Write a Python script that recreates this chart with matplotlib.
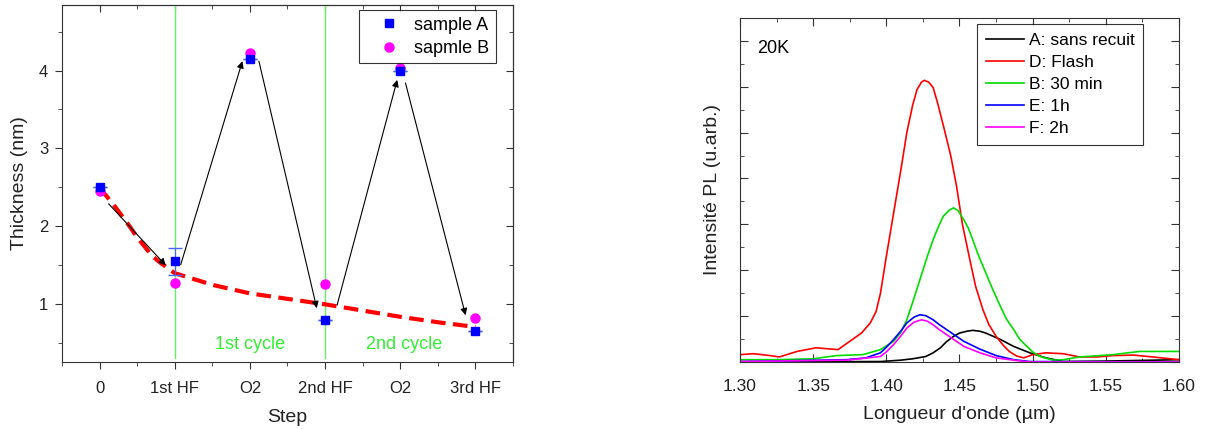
import numpy as np
import matplotlib.pyplot as plt
from matplotlib.ticker import MultipleLocator, FixedLocator

plt.rcParams['font.family'] = ['Liberation Sans', 'DejaVu Sans']
plt.rcParams['font.size'] = 12

# --- panneau gauche : épaisseur ---
steps = ['0', '1st HF', 'O2', '2nd HF', 'O2', '3rd HF']
sample_a = [2.50, 1.55, 4.15, 0.80, 4.00, 0.66]
sample_b = [2.46, 1.27, 4.23, 1.26, 4.03, 0.82]
err_a = [0, 0.17, 0, 0, 0, 0]

# courbe rouge en pointillés (tendance)
trend_x = [0.0, 0.1, 0.2, 0.3, 0.4, 0.5, 0.6, 0.7, 0.8, 0.9, 1.0, 1.5, 2.0, 2.5, 3.0, 3.5, 4.0, 4.5, 5.0]
trend_y = [2.49, 2.38, 2.26, 2.13, 2.00, 1.86, 1.74, 1.62, 1.54, 1.47, 1.40, 1.25, 1.14, 1.07, 1.00, 0.92, 0.84, 0.77, 0.71]

# flèches (départ, arrivée)
arrows = [((0.12, 2.29), (0.88, 1.50)),
          ((1.08, 1.51), (1.90, 4.12)),
          ((2.12, 4.12), (2.89, 0.95)),
          ((3.16, 0.99), (3.96, 3.88)),
          ((4.07, 3.84), (4.87, 0.86))]

# --- panneau droit : PL ---
wl_A = [1.30, 1.396, 1.410, 1.418, 1.427, 1.432, 1.437, 1.441, 1.446, 1.450, 1.455, 1.459, 1.464, 1.468,
        1.478, 1.487, 1.498, 1.509, 1.521, 1.55, 1.60]
pl_A = [0.00, 0.01, 0.04, 0.07, 0.12, 0.20, 0.31, 0.44, 0.56, 0.63, 0.67, 0.69, 0.67, 0.63,
        0.49, 0.34, 0.20, 0.09, 0.01, 0.02, 0.05]

wl_D = [1.30, 1.309, 1.318, 1.327, 1.339, 1.352, 1.359, 1.367, 1.375, 1.383, 1.389, 1.393, 1.396, 1.400,
        1.405, 1.410, 1.414, 1.418, 1.421, 1.424, 1.426, 1.429, 1.432, 1.435, 1.439, 1.444, 1.448, 1.452,
        1.457, 1.461, 1.466, 1.470, 1.475, 1.480, 1.484, 1.489, 1.494, 1.500, 1.509, 1.521, 1.532, 1.544,
        1.555, 1.569, 1.582, 1.60]
pl_D = [0.16, 0.18, 0.15, 0.11, 0.23, 0.31, 0.29, 0.27, 0.45, 0.63, 0.85, 1.10, 1.50, 2.30,
        3.25, 4.20, 5.00, 5.60, 5.94, 6.10, 6.14, 6.10, 5.98, 5.65, 5.15, 4.50, 3.83, 3.00,
        2.24, 1.65, 1.14, 0.82, 0.56, 0.36, 0.23, 0.13, 0.09, 0.16, 0.20, 0.18, 0.11, 0.11,
        0.14, 0.15, 0.11, 0.05]

wl_B = [1.30, 1.327, 1.35, 1.366, 1.384, 1.396, 1.405, 1.410, 1.414, 1.418, 1.423, 1.428, 1.432, 1.436,
        1.439, 1.443, 1.446, 1.449, 1.453, 1.456, 1.459, 1.463, 1.468, 1.473, 1.478, 1.482, 1.487, 1.491,
        1.496, 1.500, 1.505, 1.514, 1.521, 1.532, 1.555, 1.573, 1.60]
pl_B = [0.05, 0.05, 0.07, 0.14, 0.16, 0.27, 0.45, 0.65, 0.92, 1.30, 1.80, 2.30, 2.67, 2.98,
        3.18, 3.31, 3.36, 3.30, 3.10, 2.92, 2.67, 2.32, 1.94, 1.56, 1.21, 0.94, 0.71, 0.50,
        0.34, 0.22, 0.12, 0.04, 0.05, 0.11, 0.16, 0.23, 0.23]

wl_E = [1.30, 1.373, 1.386, 1.396, 1.400, 1.405, 1.410, 1.414, 1.419, 1.423, 1.427, 1.432, 1.436, 1.441,
        1.447, 1.453, 1.464, 1.475, 1.487, 1.498, 1.60]
pl_E = [0.01, 0.05, 0.09, 0.20, 0.32, 0.49, 0.68, 0.85, 0.98, 1.03, 1.01, 0.92, 0.82, 0.71,
        0.58, 0.45, 0.28, 0.14, 0.05, 0.01, 0.00]

wl_F = [1.30, 1.373, 1.396, 1.400, 1.405, 1.410, 1.414, 1.419, 1.424, 1.428, 1.432, 1.436, 1.441, 1.447,
        1.453, 1.464, 1.475, 1.487, 1.498, 1.60]
pl_F = [0.01, 0.04, 0.12, 0.22, 0.38, 0.57, 0.74, 0.87, 0.92, 0.89, 0.81, 0.71, 0.60, 0.47,
        0.34, 0.20, 0.09, 0.04, 0.00, 0.00]

pl_series = [('A: sans recuit', wl_A, pl_A, 'black'),
             ('D: Flash', wl_D, pl_D, 'red'),
             ('B: 30 min', wl_B, pl_B, '#00dd00'),
             ('E: 1h', wl_E, pl_E, 'blue'),
             ('F: 2h', wl_F, pl_F, 'magenta')]

fig = plt.figure(figsize=(12.28, 4.29), dpi=100)
spine_col = '#333333'

# ---------------- gauche
ax1 = fig.add_axes([0.0505, 0.1562, 0.3672, 0.832])
x = np.arange(len(steps))
ax1.axvline(1, ymin=0.01, ymax=1, color='#66ee66', lw=1)
ax1.axvline(3, ymin=0.01, ymax=1, color='#66ee66', lw=1)
ax1.plot(trend_x, trend_y, '--', color='red', lw=3, dashes=(3.5, 1.8), zorder=2)
for (x0, y0), (x1, y1) in arrows:
    ax1.annotate('', xy=(x1, y1), xytext=(x0, y0),
                 arrowprops=dict(arrowstyle='-|>', color='black', lw=0.8,
                                 mutation_scale=10, shrinkA=0, shrinkB=0))
ax1.errorbar(x, sample_a, yerr=err_a, fmt='none', ecolor='#4466ff', elinewidth=0.8, capsize=5, zorder=3)
ax1.plot(x, sample_a, 's', color='blue', ms=6, label='sample A', zorder=4)
ax1.plot(x, sample_b, 'o', color='magenta', ms=6.5, label='sapmle B', zorder=3)
ax1.text(2, 0.48, '1st cycle', color='#33ee33', ha='center', va='center', fontsize=13)
ax1.text(4.05, 0.49, '2nd cycle', color='#33ee33', ha='center', va='center', fontsize=13)
ax1.set_xlim(-0.5, 5.5)
ax1.set_ylim(0.26, 4.84)
ax1.set_xticks(x)
ax1.set_xticklabels(steps)
ax1.xaxis.set_minor_locator(MultipleLocator(0.5))
ax1.yaxis.set_major_locator(FixedLocator([1, 2, 3, 4]))
ax1.yaxis.set_minor_locator(MultipleLocator(0.5))
ax1.tick_params(which='both', direction='out', top=False, right=False, colors=spine_col)
ax1.tick_params(which='major', length=5)
ax1.tick_params(which='minor', length=3)
ax1.tick_params(labelcolor='#222222')
ax1.tick_params(axis='x', which='major', pad=9)
ax1.tick_params(axis='y', which='major', pad=5)
# ticks internes miroir en haut et à droite
ax1t = ax1.secondary_xaxis('top')
ax1t.set_xticks(x)
ax1t.xaxis.set_minor_locator(MultipleLocator(0.5))
ax1t.tick_params(which='both', direction='in', labeltop=False, colors=spine_col)
ax1t.tick_params(which='major', length=5)
ax1t.tick_params(which='minor', length=3)
ax1r = ax1.secondary_yaxis('right')
ax1r.yaxis.set_major_locator(FixedLocator([1, 2, 3, 4]))
ax1r.yaxis.set_minor_locator(MultipleLocator(0.5))
ax1r.tick_params(which='both', direction='in', labelright=False, colors=spine_col)
ax1r.tick_params(which='major', length=5)
ax1r.tick_params(which='minor', length=3)
for s in ax1.spines.values():
    s.set_color(spine_col)
ax1.set_xlabel('Step', color='#222222', labelpad=9, fontsize=14)
ax1.set_ylabel('Thickness (nm)', color='#222222', labelpad=8, fontsize=14)
leg1 = ax1.legend(loc='upper right', bbox_to_anchor=(0.962, 0.985), frameon=True, fancybox=False,
                  edgecolor='black', handlelength=2.6, handletextpad=0.1, borderpad=0.35,
                  labelspacing=0.35, borderaxespad=0, fontsize=13)
leg1.get_frame().set_linewidth(0.8)

# ---------------- droite
ax2 = fig.add_axes([0.6026, 0.1562, 0.3575, 0.802])
for label, wl, pl, col in pl_series:
    ax2.plot(wl, pl, color=col, lw=1.2, label=label)
ax2.set_xlim(1.30, 1.60)
ax2.set_ylim(0, 7.5)
ax2.xaxis.set_major_locator(MultipleLocator(0.05))
ax2.xaxis.set_minor_locator(MultipleLocator(0.025))
ax2.yaxis.set_major_locator(MultipleLocator(1))
ax2.yaxis.set_minor_locator(MultipleLocator(0.5))
ax2.xaxis.set_major_formatter(plt.FormatStrFormatter('%.2f'))
ax2.tick_params(which='both', direction='in', top=True, right=True, labelleft=False, colors=spine_col)
ax2.tick_params(which='major', length=6)
ax2.tick_params(which='minor', length=3)
ax2.tick_params(labelcolor='#222222', labelsize=12.5)
ax2.tick_params(axis='x', which='major', pad=12)
for s in ax2.spines.values():
    s.set_color(spine_col)
ax2.text(0.04, 0.91, '20K', transform=ax2.transAxes, fontsize=13, va='center')
ax2.set_xlabel("Longueur d'onde (µm)", color='#222222', labelpad=9, fontsize=14)
ax2.set_ylabel('Intensité PL (u.arb.)', color='#222222', labelpad=14, fontsize=14)
leg2 = ax2.legend(loc='upper right', bbox_to_anchor=(0.919, 0.983), frameon=True, fancybox=False,
                  edgecolor='black', handlelength=2.2, handletextpad=0.3, borderpad=0.5,
                  labelspacing=0.4, borderaxespad=0, fontsize=12.5)
leg2.get_frame().set_linewidth(0.8)

fig.savefig('out.png', dpi=100)
